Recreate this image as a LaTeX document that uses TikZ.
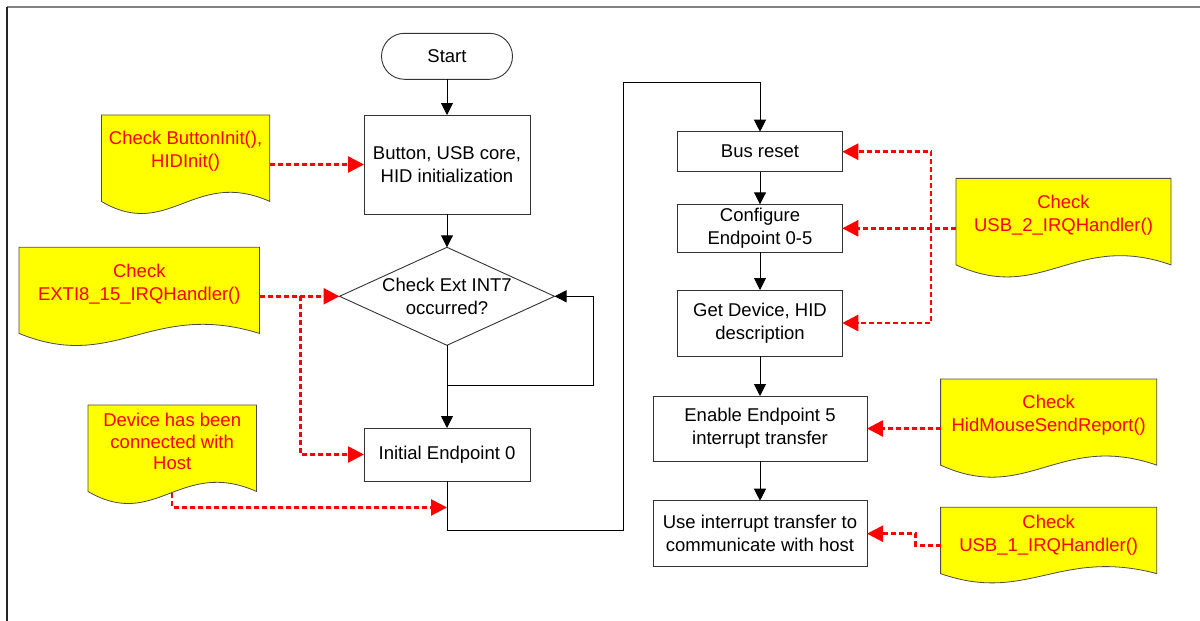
\documentclass[tikz,border=0pt]{standalone}
\usepackage{fontspec}
\setmainfont{Liberation Sans}
\usetikzlibrary{
  positioning,
  shapes.geometric,
  arrows.meta,
  calc
}
\definecolor{noteyellow}{RGB}{255,255,0}
\definecolor{notered}{RGB}{255,0,0}
\pgfdeclarelayer{background}
\pgfsetlayers{background,main}
\tikzset{
  every node/.style={font=\fontsize{18.5}{23}\selectfont, align=center, inner sep=2pt, outer sep=0pt},
  block/.style={draw=black!80, line width=0.9pt, fill=white, minimum width=166pt},
  terminal/.style={block, rounded corners=23pt, minimum width=131pt, minimum height=46pt},
  decision/.style={draw=black!80, line width=0.9pt, diamond, minimum width=215pt, minimum height=98pt, inner sep=0pt},
  docnote/.style={text=notered, inner sep=0pt, minimum width=#1},
  docline/.style={draw=black!70, line width=0.8pt, fill=noteyellow},
  flow/.style={line width=0.9pt, -{Triangle[length=12pt, width=12pt]}},
  hint/.style={draw=notered, line width=2.5pt, dash pattern=on 5pt off 3pt, -{Triangle[length=16pt, width=16pt]}}
}

\begin{document}
\begin{tikzpicture}[x=1pt, y=-1pt]
    \useasboundingbox (0,0) rectangle (1200,621);
    \draw[gray, line width=2pt] (7,7) -- (1200,7);
    \draw[black!85, line width=1.3pt] (7,7) -- (7,621);

    % main flow
    \node[terminal] (start) at (447,56.3) {Start};
    \node[block, minimum height=99pt, below=35.7pt of start] (init1) {Button, USB core,\\HID initialization};
    \node[decision, below=33.3pt of init1, label=center:{Check Ext INT7\\occurred?}] (extint) {};
    \node[block, minimum height=53pt, below=82.7pt of extint] (ep0) {Initial Endpoint 0};

    \node[block, minimum width=164.5pt, minimum height=40pt] (busreset) at (760,151.7) {Bus reset};
    \node[block, minimum width=164.5pt, minimum height=48pt, below=32.6pt of busreset] (config) {Configure\\Endpoint 0-5};
    \node[block, minimum width=164.5pt, minimum height=66pt, below=37.7pt of config] (getdesc) {Get Device, HID\\description};
    \node[block, minimum width=214pt, minimum height=65pt, below=40pt of getdesc] (enable) {Enable Endpoint 5\\interrupt transfer};
    \node[block, minimum width=214pt, minimum height=66pt, below=39.7pt of enable] (comm) {Use interrupt transfer to\\communicate with host};

    % notes
    \node[docnote=168.4pt, minimum height=73.3pt] (d1) at (185.6,151.6) {Check ButtonInit(),\\HIDInit()};
    \node[docnote=240.5pt, minimum height=73pt] (d2) at (139.3,283.8) {Check\\EXTI8\_15\_IRQHandler()};
    \node[docnote=168.4pt, minimum height=73.3pt, font=\fontsize{18.5}{21.7}\selectfont] (d3) at (172.2,441.6) {Device has been\\connected with\\Host};
    \node[docnote=215pt, minimum height=73.3pt] (d4) at (1063.5,215) {Check\\USB\_2\_IRQHandler()};
    \node[docnote=216.2pt, minimum height=73pt] (d5) at (1048.7,415.5) {Check\\HidMouseSendReport()};
    \node[docnote=216.2pt, minimum height=56.2pt] (d6) at (1048.7,535.4) {Check\\USB\_1\_IRQHandler()};

    \begin{pgfonlayer}{background}
    \foreach \d in {d1,d2,d3,d4,d5,d6}
      \draw[docline] let \p1=(\d.north west), \p2=(\d.south east), \n1={\y1-\y2} in
        (\p1) -- (\x2,\y1) -- (\x2,{\y1-1.18*\n1})
        .. controls ({\x1+0.55*(\x2-\x1)},{\y1-0.72*\n1}) and ({\x1+0.40*(\x2-\x1)},{\y1-1.72*\n1}) ..
        (\x1,{\y1-1.18*\n1}) -- cycle;
    \end{pgfonlayer}

    \coordinate (loopcorner) at ([yshift=-40pt]extint.south);
    \coordinate (lowturn) at (623,530);
    \coordinate (highturn) at (623,82.7);
    \coordinate (extsplit) at ([xshift=-39pt]extint.west);
    \coordinate (usbsplit) at ([xshift=-25pt]config -| d4.west);

    \draw[flow] (start) -- (init1);
    \draw[flow] (init1) -- (extint);
    \draw[flow] (extint) -- (ep0);
    \draw[flow] (loopcorner) -| ([xshift=39pt]extint.east) -- (extint.east);
    \draw[flow] (ep0.south) |- (lowturn) -- (highturn) -| (busreset.north);
    \draw[flow] (busreset) -- (config);
    \draw[flow] (config) -- (getdesc);
    \draw[flow] (getdesc) -- (enable);
    \draw[flow] (enable) -- (comm);

    \draw[hint] (d1.east |- init1) -- (init1.west);
    \draw[hint] (d2.east |- extint) -- (extint.west);
    \draw[hint] (extsplit) |- (ep0.west);
    \draw[hint] ([yshift=-15pt]d3.south) |- ($(ep0.south)!0.54!(ep0.south |- lowturn)$);
    \draw[hint] (config -| d4.west) -- (config.east);
    \draw[hint] (usbsplit) |- (busreset.east);
    \draw[hint] (usbsplit) |- (getdesc.east);
    \draw[hint] (d5.west |- enable) -- (enable.east);
    \draw[hint] ([yshift=-10pt]d6.west) -- ++(-25,0) |- (comm.east);
\end{tikzpicture}
\end{document}
